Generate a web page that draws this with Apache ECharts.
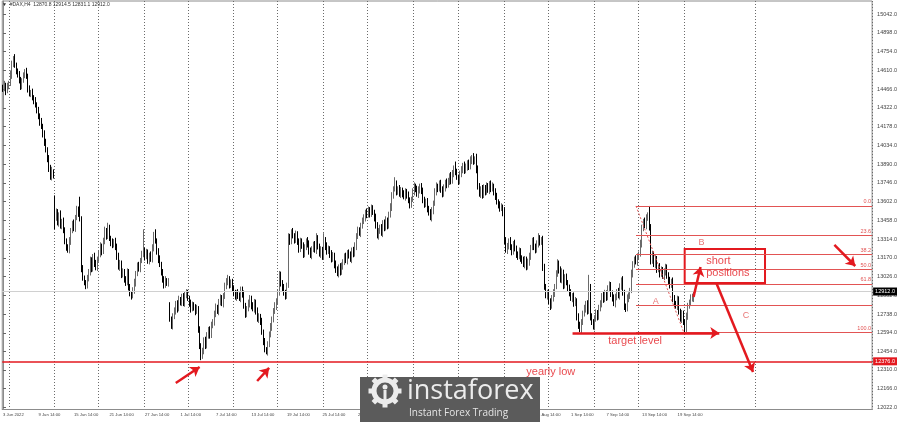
<!DOCTYPE html>
<html><head><meta charset="utf-8">
<script src="https://cdn.jsdelivr.net/npm/echarts@6/dist/echarts.min.js"></script>
<style>html,body{margin:0;padding:0;background:#fff}#c{width:900px;height:422px}</style>
</head><body><div id="c"></div>
<script>
// ---------- DATA ----------
const dateLabels = ['3 Jun 2022','9 Jun 14:00','15 Jun 14:00','21 Jun 14:00','27 Jun 14:00','1 Jul 14:00','7 Jul 14:00','13 Jul 14:00','19 Jul 14:00','25 Jul 14:00','29 Jul 14:00','4 Aug 14:00','10 Aug 14:00','16 Aug 14:00','22 Aug 14:00','26 Aug 14:00','1 Sep 14:00','7 Sep 14:00','13 Sep 14:00','19 Sep 14:00'];
const yTicks = [12022,12166,12310,12454,12594,12738,12882,13026,13170,13314,13458,13602,13746,13890,14034,14178,14322,14466,14610,14754,14898,15042];
const firstOpen = 14480;
const gapOpens = {35: 13650, 113: 12800};
const closes = [
14470,14500,14450,14490,14510,14580,14660,14700,14650,14610,
14580,14530,14490,14530,14570,14600,14570,14470,14430,14440,
14400,14380,14350,14300,14260,14220,14180,14120,14060,14000,
13930,13860,13790,13830,13810,13480,13520,13440,13500,13420,
13450,13380,13300,13260,13230,13300,13380,13430,13400,13480,
13540,13510,13470,13090,13020,12980,12960,13010,13060,13150,
13090,13180,13120,13100,13160,13200,13260,13220,13300,13380,
13340,13400,13320,13290,13270,13300,13260,13180,13100,13130,
13040,13060,13010,12980,13060,12950,12900,12880,12920,12980,
13050,13110,13090,13150,13200,13230,13180,13210,13150,13190,
13160,13250,13330,13300,13220,13160,13120,13060,13010,12960,
13000,12980,12990,12700,12650,12720,12760,12820,12780,12850,
12830,12870,12820,12890,12900,12860,12820,12780,12810,12790,
12760,12780,12620,12500,12420,12450,12540,12500,12570,12620,
12580,12650,12680,12740,12790,12760,12830,12860,12820,12880,
12950,12990,13010,12960,12980,12940,12900,12870,12900,12880,
12860,12930,12890,12800,12740,12780,12820,12860,12800,12780,
12830,12760,12700,12720,12680,12600,12530,12470,12450,12510,
12580,12640,12700,12760,12800,12840,12900,13040,12980,12940,
12900,12880,12960,13330,13300,13360,13340,13310,13350,13290,
13240,13300,13260,13200,13250,13300,13280,13220,13190,13240,
13270,13230,13320,13260,13200,13230,13180,13310,13260,13220,
13240,13200,13160,13190,13120,13080,13050,13100,13060,13110,
13140,13180,13150,13210,13190,13160,13230,13200,13260,13340,
13380,13360,13420,13450,13480,13520,13500,13540,13510,13550,
13520,13480,13420,13340,13380,13400,13360,13440,13400,13460,
13420,13500,13560,13650,13700,13740,13680,13700,13660,13690,
13660,13640,13680,13650,13610,13580,13620,13680,13720,13700,
13660,13690,13720,13680,13620,13580,13600,13550,13520,13480,
13530,13590,13680,13720,13700,13740,13700,13660,13710,13750,
13730,13760,13800,13760,13820,13860,13830,13790,13760,13810,
13850,13880,13840,13870,13900,13870,13920,13950,13910,13930,
13850,13720,13660,13700,13650,13710,13680,13720,13690,13740,
13700,13720,13680,13640,13600,13580,13550,13560,13520,13300,
13230,13260,13300,13250,13220,13280,13240,13200,13180,13220,
13170,13150,13120,13160,13100,13140,13180,13250,13300,13260,
13230,13280,13320,13290,13310,13100,12950,12880,12900,12840,
12800,12860,12900,12950,13050,13130,13080,13000,13060,12960,
13020,12980,12940,12900,12860,12880,12820,12840,12720,12650,
12620,12680,12740,12780,12820,12760,12950,12720,12680,12640,
12700,12750,12720,12780,12820,12880,12850,12900,12870,12930,
12960,12900,12860,12820,12870,12910,12880,12950,13000,12900,
12800,12780,12860,12880,12920,13050,13120,13160,13140,13180,
13200,13280,13400,13450,13420,13480,13500,13400,13150,13200,
13120,13160,13080,13100,13050,13080,13030,13060,13100,13030,
13000,12960,12990,12860,12820,12800,12850,12760,12700,12740,
12680,12620,12720,12800,12830,12860,12870.8,12912.0];
const wickUp = [
20,30,15,25,20,30,25,20,35,20, 15,25,30,20,25,20,30,15,25,20,
30,20,25,15,30,20,25,20,30,25, 20,30,25,40,20,0,30,25,20,35,
20,30,25,20,15,30,20,25,35,20, 30,25,130,20,25,15,20,30,25,30,
25,20,30,35,20,25,30,20,25,30, 20,40,25,20,30,15,25,20,30,25,
20,30,25,20,30,25,20,15,25,30, 20,25,30,20,25,160,20,30,25,20,
30,25,40,60,20,25,30,20,25,20, 30,15,25,30,20,25,30,20,25,30,
20,25,30,20,30,25,20,30,25,20, 25,30,20,25,15,30,20,25,30,20,
25,30,20,25,30,20,25,30,25,20, 30,25,30,20,25,30,20,25,20,30,
25,20,20,30,25,20,30,25,20,30, 25,20,30,25,20,30,20,25,15,20,
25,30,20,25,30,20,25,30,25,20, 30,25,20,30,25,30,40,20,30,25,
30,25,20,30,25,20,30,25,30,20, 25,30,40,25,20,30,25,50,20,30,
25,20,30,25,20,30,25,20,30,25, 20,25,30,20,25,30,20,25,30,20,
30,25,20,30,25,20,30,25,20,30, 25,20,30,25,20,25,30,20,25,30,
20,25,30,25,20,50,25,20,30,25, 20,30,25,20,30,25,20,25,30,20,
25,30,20,25,30,20,25,30,20,25, 30,20,25,30,20,25,30,20,25,20,
30,25,20,30,25,20,50,25,20,30, 25,20,30,25,20,25,30,10,25,20,
40,30,25,20,30,25,20,30,25,20, 25,30,20,25,30,20,25,30,20,40,
30,25,20,30,25,20,30,25,20,30, 25,20,30,25,20,25,30,20,25,30,
20,25,40,25,20,30,25,20,25,30, 20,25,30,20,25,30,20,25,30,20,
25,30,20,25,30,20,25,30,20,25, 30,20,25,30,20,25,90,20,25,20,
30,25,20,30,25,20,30,25,20,30, 30,25,20,30,25,20,30,25,20,30,
25,20,30,25,20,30,25,20,30,25, 20,30,25,20,30,25,20,69,30,25,
20,30,25,20,30,25,20,30,25,20, 30,25,20,30,25,20,30,25,20,30,
25,20,30,25,20,30,25,2.5];
const wickDown = [
25,20,30,15,25,20,35,25,20,30, 25,20,30,25,15,20,25,30,20,25,
20,30,25,20,25,35,20,25,30,20, 25,30,20,25,30,90,25,20,30,25,
30,20,25,35,20,25,30,20,25,30, 20,25,20,30,25,20,30,25,20,25,
30,25,20,25,30,20,25,30,20,25, 30,25,20,30,25,20,30,25,20,30,
25,20,30,25,20,30,25,30,20,25, 30,20,25,30,20,25,30,20,25,30,
20,25,30,20,25,30,20,25,30,25, 20,25,30,20,25,30,20,25,30,20,
25,30,20,25,30,20,25,30,20,25, 30,20,25,30,35,25,20,30,25,20,
30,25,20,30,25,20,30,25,20,30, 25,20,30,25,20,30,25,20,30,25,
20,30,25,20,30,25,20,30,25,20, 30,25,20,30,25,20,30,25,20,30,
25,20,30,25,20,30,25,20,30,25, 20,30,25,20,30,25,20,30,25,20,
30,25,20,30,25,20,30,25,20,30, 25,20,30,25,20,30,25,20,30,25,
20,30,25,20,30,25,20,30,25,20, 30,25,20,30,25,20,30,25,20,30,
25,20,30,25,20,30,25,20,30,25, 20,30,25,20,30,25,20,30,25,20,
30,25,20,30,25,20,30,25,20,30, 25,20,30,25,20,30,25,20,30,25,
20,30,25,20,30,25,20,30,25,20, 30,25,20,30,25,20,30,25,20,30,
25,20,30,25,20,30,25,20,30,25, 20,30,25,20,30,25,20,30,25,20,
30,25,20,30,25,20,30,25,20,30, 25,20,30,25,20,30,25,20,30,25,
20,30,25,20,30,25,20,30,25,20, 30,25,20,30,25,20,30,25,20,30,
25,20,30,25,20,30,25,20,30,25, 30,20,25,30,20,25,30,20,25,30,
25,20,30,25,20,30,25,20,30,25, 20,30,25,20,30,25,20,30,25,20,
25,20,30,25,20,30,25,20,30,25, 20,30,25,20,30,25,20,30,25,20,
30,25,20,30,25,20,30,25,20,30, 25,20,30,25,20,30,25,20,30,25,
20,30,25,20,30,25,20,30,25,20, 30,25,20,30,25,20,30,25,20,30,
25,19,30,25,20,30,25,39.7];
const fibHigh = 13569, fibLow = 12601;
const fibLevels = [0, 23.6, 38.2, 50, 61.8, 100, 161.8];
const extraLevel = 12810;
const yearlyLow = 12376;
const currentPrice = 12912;
const headerText = '\u25BC  #DAX,H4  12870.8 12914.5 12831.1 12912.0';

// ---------- LAYOUT / STYLE ----------
const N_CAT = 588;
const gridIdx = [5,35,65,96,126,156,186,217,247,278,308,339,369,400,430,461,509];
const RED = '#e3191f';
const FIBRED = '#e25454';
const fibStart = 427.9, rightEnd = 587.5;

const cats = Array.from({length: N_CAT}, (_, i) => String(i));
const candles = closes.map((c, i) => {
  const o = i === 0 ? firstOpen : (gapOpens[i] !== undefined ? gapOpens[i] : closes[i - 1]);
  return [o, c, Math.min(o, c) - wickDown[i], Math.max(o, c) + wickUp[i]];
});

const fibData = fibLevels.map(l => {
  const p = fibHigh - (fibHigh - fibLow) * l / 100;
  return [{name: l.toFixed(1), coord: [fibStart, p]}, {coord: [rightEnd, p]}];
});
fibData.push([{name: '', coord: [fibStart, extraLevel]}, {coord: [rightEnd, extraLevel]}]);

const arrows = [
  [[385.0, 12594], [484.2, 12594]],
  [[466.8, 12870], [471.5, 13100]],
  [[482.2, 12978], [507.0, 12294]],
  [[562.0, 13270], [576.1, 13108]],
  [[116.8, 12210], [132.9, 12332]],
  [[171.8, 12225], [179.9, 12325]]
];

const texts = [
  {name: 'short', value: [483.6, 13146], size: 11, color: RED},
  {name: 'positions', value: [490.0, 13051], size: 11, color: RED},
  {name: 'target level', value: [427.3, 12532], size: 11, color: RED},
  {name: 'yearly low', value: [370.3, 12294], size: 11, color: RED},
  {name: 'A', value: [441.3, 12839], size: 9, color: FIBRED},
  {name: 'B', value: [472.2, 13292], size: 9, color: FIBRED},
  {name: 'C', value: [502.3, 12724], size: 9, color: FIBRED}
];

const chart = echarts.init(document.getElementById('c'));
const gear = [];
const gcx = 385, gcy = 391;
for (let k = 0; k < 8; k++) {
  const a = k * Math.PI / 4;
  gear.push({type: 'rect', x: gcx + 14 * Math.cos(a), y: gcy + 14 * Math.sin(a), originX: 0, originY: 0,
    rotation: -a, shape: {x: -2.5, y: -2.5, width: 5, height: 5}, style: {fill: '#ececec'}, z: 101});
}
chart.setOption({
  animation: false,
  backgroundColor: '#fff',
  textStyle: {fontFamily: 'Liberation Sans'},
  grid: {left: 0, top: 1, width: 877, height: 408.5, show: true, borderColor: '#8c8c8c', borderWidth: 1, backgroundColor: '#fff'},
  xAxis: [{
    type: 'category', data: cats, boundaryGap: true,
    axisLine: {show: true, lineStyle: {color: '#8c8c8c'}},
    axisTick: {show: false},
    axisLabel: {
      interval: (idx) => idx % 24 === 0 && idx / 24 < dateLabels.length,
      formatter: (v, idx) => dateLabels[Math.round(Number(v) / 24)] || '',
      align: 'left', fontSize: 4.2, color: '#444', margin: 3
    },
    splitLine: {show: true, interval: (idx) => gridIdx.indexOf(idx) >= 0,
      lineStyle: {color: '#6a6a6a', width: 1, type: [1, 2]}}
  }, {
    type: 'value', min: -0.5, max: 587.5, show: false
  }],
  yAxis: {
    type: 'value', position: 'right', min: 12006, max: 15143, scale: true,
    splitLine: {show: false},
    axisLine: {show: true, lineStyle: {color: '#8c8c8c'}},
    axisTick: {show: true, length: 3, customValues: yTicks, lineStyle: {color: '#666'}},
    axisLabel: {customValues: yTicks, formatter: (v) => Number(v).toFixed(1), fontSize: 5.5, color: '#444', margin: 5}
  },
  series: [{
    type: 'candlestick', xAxisIndex: 0, data: candles, barWidth: 1,
    itemStyle: {color: '#9a9a9a', color0: '#0a0a0a', borderColor: '#6a6a6a', borderColor0: '#000', borderWidth: 1},
    z: 3
  }, {
    type: 'scatter', xAxisIndex: 1, data: [], silent: true, z: 2,
    markLine: {
      silent: true, symbol: ['none', 'none'], animation: false,
      lineStyle: {color: FIBRED, width: 1, type: 'solid'},
      label: {show: true, position: 'insideEndTop', formatter: '{b}', color: FIBRED, fontSize: 5.5, distance: [1, 1]},
      data: fibData
    }
  }, {
    type: 'scatter', xAxisIndex: 1, data: [], silent: true, z: 2,
    markLine: {
      silent: true, symbol: ['none', 'none'], animation: false,
      lineStyle: {color: FIBRED, width: 1, type: [2, 2]},
      label: {show: false},
      data: [[{coord: [fibStart, fibHigh]}, {coord: [460.1, fibLow]}]]
    }
  }, {
    type: 'scatter', xAxisIndex: 1, data: [], silent: true, z: 4,
    markLine: {
      silent: true, symbol: ['none', 'none'], animation: false,
      label: {show: true, position: 'end', color: '#fff', fontSize: 5.5, padding: [1, 2, 1, 2], distance: 1},
      data: [
        {yAxis: currentPrice, lineStyle: {color: '#d0d0d0', width: 1, type: 'solid'},
          label: {formatter: currentPrice.toFixed(1), backgroundColor: '#000'}},
        {yAxis: yearlyLow, lineStyle: {color: RED, width: 1.5, type: 'solid'},
          label: {formatter: yearlyLow.toFixed(1), backgroundColor: RED}}
      ]
    }
  }, {
    type: 'scatter', xAxisIndex: 1, silent: true, z: 6,
    symbolSize: 0.01, itemStyle: {color: 'rgba(0,0,0,0)'},
    data: texts.map(t => ({name: t.name, value: t.value,
      label: {show: true, position: 'inside', formatter: '{b}', fontSize: t.size, color: t.color}})),
    markLine: {
      silent: true, symbol: ['none', 'arrow'], symbolSize: 9, animation: false,
      lineStyle: {color: RED, width: 2.5, type: 'solid'},
      label: {show: false},
      data: arrows.map(a => [{coord: a[0]}, {coord: a[1]}])
    },
    markArea: {
      silent: true,
      itemStyle: {color: 'rgba(0,0,0,0)', borderColor: RED, borderWidth: 2},
      label: {show: false},
      data: [[{coord: [460.8, 13239]}, {coord: [515.1, 12978]}]]
    }
  }],
  graphic: [
    {type: 'text', left: 2, top: 2, z: 100, style: {text: headerText, fontSize: 5, fill: '#333', fontFamily: 'Liberation Sans'}},
    {type: 'rect', shape: {x: 360, y: 377, width: 180, height: 45}, style: {fill: '#5b5b5b'}, z: 100},
    {type: 'circle', shape: {cx: gcx, cy: gcy, r: 11}, style: {fill: 'none', stroke: '#ececec', lineWidth: 5}, z: 101},
    {type: 'circle', shape: {cx: gcx, cy: gcy - 4, r: 2.5}, style: {fill: '#ececec'}, z: 101},
    {type: 'rect', shape: {x: gcx - 1.5, y: gcy - 1, width: 3, height: 12}, style: {fill: '#ececec'}, z: 101},
    ...gear,
    {type: 'text', x: 407, y: 391, z: 102, style: {text: 'instaforex', fontSize: 27, fill: '#ececec', fontFamily: 'Open Sans', textVerticalAlign: 'middle', textBaseline: 'middle'}},
    {type: 'text', x: 409, y: 413.5, z: 102, style: {text: 'Instant Forex Trading', fontSize: 10, fill: '#e4e4e4', fontFamily: 'Open Sans', textVerticalAlign: 'middle', textBaseline: 'middle'}}
  ]
});
</script>
</body></html>
